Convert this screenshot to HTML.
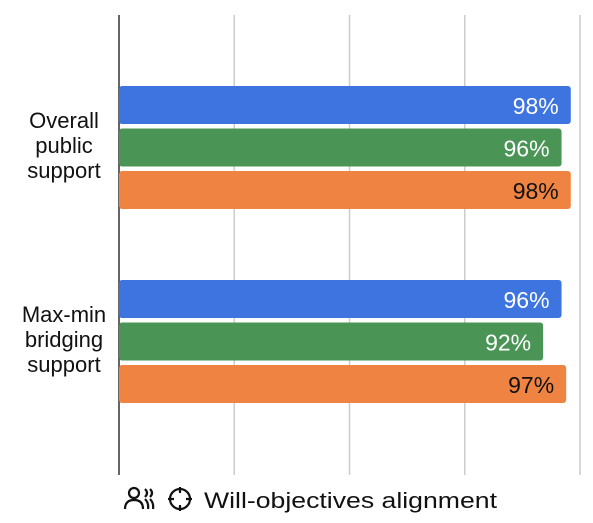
<!DOCTYPE html>
<html><head><meta charset="utf-8"><style>
body{margin:0;background:#fff;width:593px;height:518px;overflow:hidden}
svg{font-family:"Liberation Sans",Arial,sans-serif}
</style></head><body>
<svg width="593" height="518">
<g id="grid"></g>
<g id="bars"></g>
<g id="labels"></g>
<g>
<g fill="none" stroke="#111" stroke-width="2.2">
<circle cx="134" cy="493" r="5"/>
<path d="M125 509 q0 -9 9 -9 q9 0 9 9"/>
<path d="M145 489 q4 4 0 8 M145 499 q4 4 3 10 M150 489 q4 4 0 8 M150 499 q4 4 3 10"/>
</g>
<g fill="none" stroke="#111" stroke-width="2.2">
<circle cx="180" cy="499" r="10"/>
<path d="M180 487v6M180 505v6M168 499h6M186 499h6"/>
</g>
<text x="204" y="508" font-size="22" textLength="293" lengthAdjust="spacingAndGlyphs" fill="#111">Will-objectives alignment</text>
</g>
</svg>
<script>
const categories=[["Overall","public","support"],["Max-min","bridging","support"]];
const seriesBlue=[98,96];
const seriesGreen=[96,92];
const seriesOrange=[98,97];
const ticks=[0,25,50,75,100];
const NS="http://www.w3.org/2000/svg";
const x0=119,x100=580;
const xs=v=>x0+(x100-x0)*v/100;
const groupTop=[86,280];
function mk(t,a,p){const e=document.createElementNS(NS,t);for(const k in a)e.setAttribute(k,a[k]);p.appendChild(e);return e;}
const grid=document.getElementById('grid');
ticks.forEach((t,i)=>{
 const l=mk('line',{x1:xs(t),x2:xs(t),y1:15,y2:475,stroke:i==0?'#333':'#ccc','stroke-width':1.5},grid);
 
 
});
const bars=document.getElementById('bars');
const series=[[seriesBlue,'#3d74e0','#fff','blue'],[seriesGreen,'#4a9555','#fff','green'],[seriesOrange,'#ef8442','#111','orange']];
categories.forEach((c,ci)=>{
 series.forEach((s,si)=>{
  const y=groupTop[ci]+si*42.5, v=s[0][ci];
  const r=mk('rect',{x:x0,y:y,width:xs(v)-x0,height:38,rx:3,fill:s[1]},bars);
  
  
  const t=mk('text',{x:xs(v)-12,y:y+28,'text-anchor':'end','font-size':23,fill:s[2]},bars);
  t.textContent=v+'%';
  
  
 });
 const lab=document.getElementById('labels');
 const g=mk('text',{'text-anchor':'middle','font-size':22,fill:'#111'},lab);
 
 
 c.forEach((w,wi)=>{const ts=mk('tspan',{x:64,y:groupTop[ci]+42+wi*25},g);ts.textContent=w;});
});
</script>
</body></html>
